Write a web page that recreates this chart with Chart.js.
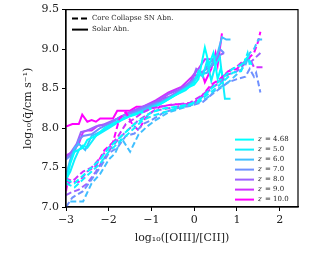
<!DOCTYPE html>
<html>
<head>
<meta charset="utf-8">
<script src="https://cdn.jsdelivr.net/npm/chart.js@4/dist/chart.umd.min.js"></script>
<style>
html,body{margin:0;padding:0;background:#fff;}
#wrap{width:331px;height:257px;position:relative;}
</style>
</head>
<body>
<div id="wrap"><canvas id="c" width="331" height="257"></canvas></div>
<script>
// redshift labels and colours (cool colormap)
const zLabels=["4.68","5.0","6.0","7.0","8.0","9.0","10.0"];
const zColors=["#00ffff","#10efff","#40bfff","#6f90ff","#9f60ff","#cf30ff","#ff00ff"];

// solid = solar abundance, [log OIII/CII, log q]
const solid468=[[-3,7.3],[-2.9,7.55],[-2.8,7.7],[-2.6,7.75],[-2.5,7.85],[-2.3,7.9],[-2.1,8.0],[-1.8,8.08],[-1.5,8.15],[-1.2,8.2],[-1.0,8.25],[-0.7,8.33],[-0.4,8.43],[-0.2,8.5],[0,8.55],[0.1,8.62],[0.25,9.02],[0.35,8.8],[0.45,8.95],[0.55,8.62],[0.62,8.75],[0.7,8.6]];
const solid5=[[-3,7.35],[-2.9,7.45],[-2.8,7.6],[-2.7,7.72],[-2.6,7.78],[-2.5,7.75],[-2.3,7.9],[-2.0,8.0],[-1.7,8.1],[-1.4,8.18],[-1.1,8.23],[-0.8,8.3],[-0.5,8.4],[-0.2,8.48],[0,8.58],[0.1,8.72],[0.2,8.65],[0.3,8.85],[0.4,8.6],[0.5,8.8],[0.6,8.9],[0.72,8.37],[0.85,8.37]];
const solid6=[[-3,7.4],[-2.9,7.6],[-2.8,7.75],[-2.7,7.8],[-2.55,7.72],[-2.4,7.9],[-2.2,7.95],[-2.0,8.02],[-1.7,8.12],[-1.4,8.18],[-1.1,8.25],[-0.8,8.32],[-0.5,8.4],[-0.2,8.5],[0,8.6],[0.15,8.68],[0.3,8.7],[0.45,8.85],[0.55,8.95],[0.65,9.15],[0.75,9.12],[0.85,9.12]];
const solid7=[[-3,7.6],[-2.9,7.65],[-2.8,7.7],[-2.7,7.85],[-2.6,7.9],[-2.4,7.92],[-2.2,8.0],[-2.0,8.05],[-1.7,8.15],[-1.4,8.2],[-1.1,8.27],[-0.8,8.33],[-0.5,8.42],[-0.2,8.52],[0,8.62],[0.15,8.7],[0.3,8.75],[0.45,8.8],[0.6,9.0],[0.7,8.95]];
const solid8=[[-3,7.62],[-2.9,7.68],[-2.75,7.8],[-2.65,7.95],[-2.5,7.97],[-2.3,8.02],[-2.1,8.05],[-1.8,8.12],[-1.5,8.2],[-1.2,8.27],[-0.9,8.33],[-0.6,8.43],[-0.3,8.5],[-0.05,8.6],[0.05,8.75],[0.2,8.7],[0.35,8.82],[0.5,8.9],[0.7,8.95]];
const solid9=[[-3,7.65],[-2.85,7.7],[-2.7,7.8],[-2.6,7.95],[-2.5,7.97],[-2.4,7.97],[-2.25,8.03],[-2.0,8.05],[-1.8,8.12],[-1.5,8.2],[-1.2,8.27],[-0.9,8.35],[-0.6,8.45],[-0.3,8.52],[-0.05,8.65],[0.1,8.75],[0.25,8.87],[0.4,8.87],[0.5,8.87],[0.62,8.9]];
const solid10=[[-3,8.02],[-2.85,8.05],[-2.7,8.05],[-2.62,8.17],[-2.5,8.08],[-2.4,8.1],[-2.3,8.08],[-2.2,8.12],[-1.9,8.12],[-1.8,8.22],[-1.5,8.22],[-1.35,8.27],[-1.1,8.27],[-0.9,8.3],[-0.75,8.37],[-0.55,8.4],[-0.35,8.47],[-0.15,8.53],[0,8.67],[0.2,8.67],[0.25,8.58],[0.4,8.75],[0.5,8.95],[0.55,8.8],[0.65,9.2]];

// dashed = core collapse SN abundance
const dash468=[[-3,7.35],[-2.8,7.3],[-2.6,7.4],[-2.4,7.5],[-2.2,7.6],[-2.0,7.75],[-1.8,7.85],[-1.6,7.95],[-1.4,8.05],[-1.2,8.12],[-1.0,8.2],[-0.7,8.25],[-0.4,8.27],[-0.1,8.3],[0.1,8.35],[0.3,8.45],[0.5,8.55],[0.7,8.65],[0.9,8.75],[1.1,8.8],[1.25,8.9],[1.35,8.8]];
const dash5=[[-3,7.3],[-2.8,7.25],[-2.6,7.35],[-2.4,7.45],[-2.2,7.55],[-2.0,7.7],[-1.8,7.8],[-1.6,7.9],[-1.4,8.0],[-1.2,8.1],[-1.0,8.15],[-0.7,8.2],[-0.4,8.25],[-0.1,8.3],[0.1,8.33],[0.3,8.42],[0.5,8.5],[0.7,8.6],[0.9,8.7],[1.1,8.72],[1.25,8.95],[1.3,8.8]];
const dash6=[[-2.9,7.07],[-2.6,7.07],[-2.4,7.3],[-2.2,7.42],[-2.0,7.6],[-1.85,7.68],[-1.7,7.87],[-1.5,7.7],[-1.3,7.92],[-1.1,8.02],[-0.9,8.1],[-0.6,8.2],[-0.3,8.25],[0,8.3],[0.3,8.38],[0.5,8.48],[0.8,8.58],[1.0,8.68],[1.2,8.8],[1.3,8.95],[1.4,9.0],[1.5,9.12],[1.65,9.12]];
const dash7=[[-3,7.0],[-2.85,7.12],[-2.6,7.2],[-2.4,7.35],[-2.2,7.5],[-2.0,7.68],[-1.8,7.75],[-1.6,7.9],[-1.4,7.93],[-1.2,8.05],[-1.0,8.1],[-0.7,8.2],[-0.4,8.25],[-0.1,8.28],[0.2,8.33],[0.4,8.42],[0.6,8.5],[0.8,8.58],[1.0,8.62],[1.2,8.65],[1.3,8.75],[1.4,8.65],[1.45,8.7],[1.55,8.45]];
const dash8=[[-3,7.15],[-2.9,7.18],[-2.7,7.22],[-2.5,7.3],[-2.3,7.45],[-2.1,7.62],[-1.9,7.78],[-1.7,7.9],[-1.5,8.0],[-1.3,8.1],[-1.1,8.17],[-0.9,8.22],[-0.6,8.25],[-0.3,8.28],[0,8.32],[0.2,8.4],[0.4,8.5],[0.6,8.58],[0.8,8.68],[1.0,8.72],[1.2,8.82],[1.35,8.85],[1.55,8.95]];
const dash9=[[-3,7.28],[-2.8,7.35],[-2.6,7.45],[-2.4,7.5],[-2.2,7.62],[-2.0,7.75],[-1.8,7.88],[-1.6,8.05],[-1.4,8.12],[-1.2,8.2],[-1.0,8.25],[-0.7,8.28],[-0.4,8.3],[-0.1,8.32],[0.2,8.42],[0.4,8.52],[0.6,8.6],[0.8,8.72],[1.0,8.78],[1.15,8.85],[1.3,8.88],[1.4,8.77],[1.65,8.77]];
const dash10=[[-3,7.2],[-2.95,7.35],[-2.8,7.32],[-2.7,7.32],[-2.5,7.45],[-2.3,7.52],[-2.1,7.72],[-1.9,7.82],[-1.75,8.12],[-1.6,8.2],[-1.45,8.05],[-1.3,7.97],[-1.15,8.12],[-1.0,8.2],[-0.8,8.27],[-0.5,8.3],[-0.2,8.3],[0,8.32],[0.2,8.42],[0.4,8.55],[0.6,8.62],[0.8,8.72],[1.0,8.75],[1.2,8.85],[1.4,8.95],[1.5,9.1],[1.55,9.22]];

const xTicks=[-3,-2,-1,0,1,2];
const yTicks=[7.0,7.5,8.0,8.5,9.0,9.5];

const solids=[solid468,solid5,solid6,solid7,solid8,solid9,solid10];
const dashes=[dash468,dash5,dash6,dash7,dash8,dash9,dash10];

const FONT="'DejaVu Serif', 'Liberation Serif', serif";

function mk(arr,col,dashed){
  return {
    data:arr.map(p=>({x:p[0],y:p[1]})),
    borderColor:col,
    borderWidth:2,
    borderDash:dashed?[6,3]:[],
    showLine:true,
    pointRadius:0,
    fill:false,
    tension:0
  };
}
var ds=[];
for(var i=0;i<7;i++){ ds.push(mk(dashes[i],zColors[i],true)); }
for(var i=0;i<7;i++){ ds.push(mk(solids[i],zColors[i],false)); }

// frame + both legends drawn by hand
const extras={
  id:'extras',
  afterDraw(chart){
    const c=chart.ctx, a=chart.chartArea;
    c.save();
    c.strokeStyle='#000';
    c.lineWidth=1.2;
    c.strokeRect(a.left,a.top,a.right-a.left,a.bottom-a.top);
    // linestyle legend
    c.lineWidth=2;
    c.strokeStyle='#000';
    c.setLineDash([6,3]);
    c.beginPath();c.moveTo(a.left+6,a.top+9);c.lineTo(a.left+22,a.top+9);c.stroke();
    c.setLineDash([]);
    c.beginPath();c.moveTo(a.left+6,a.top+20);c.lineTo(a.left+22,a.top+20);c.stroke();
    c.fillStyle='#222';
    c.font="7px "+FONT;
    c.textBaseline='middle';
    c.fillText("Core Collapse SN Abn.",a.left+26,a.top+9);
    c.fillText("Solar Abn.",a.left+26,a.top+20);
    // redshift legend
    for(var k=0;k<7;k++){
      var y=a.top+130+k*10;
      c.strokeStyle=zColors[k];
      c.lineWidth=2;
      c.beginPath();c.moveTo(a.left+169,y);c.lineTo(a.left+188,y);c.stroke();
      c.fillStyle='#222';
      c.font="italic 7px "+FONT;
      c.fillText("z",a.left+192,y);
      c.font="7px "+FONT;
      c.fillText("= "+zLabels[k],a.left+199,y);
    }
    c.restore();
  }
};

new Chart(document.getElementById('c'),{
  type:'scatter',
  data:{datasets:ds},
  options:{
    responsive:false,
    animation:false,
    layout:{padding:{top:7,right:33,left:0,bottom:0}},
    plugins:{legend:{display:false},tooltip:{enabled:false}},
    scales:{
      x:{
        type:'linear',min:-3,max:2.43,
        afterBuildTicks(s){ s.ticks=xTicks.map(v=>({value:v})); },
        afterFit(s){ s.height=50; },
        grid:{drawOnChartArea:false,tickLength:4,color:'#000',lineWidth:1},
        border:{color:'#000',width:1.2},
        ticks:{color:'#222',font:{family:FONT,size:11},padding:3,
          callback:v=>(v<0?'\u2212'+Math.abs(v):String(v))},
        title:{display:true,text:'log\u2081\u2080([OIII]/[CII])',color:'#222',font:{family:FONT,size:11},padding:{top:0,bottom:12}}
      },
      y:{
        type:'linear',min:7,max:9.5,
        afterBuildTicks(s){ s.ticks=yTicks.map(v=>({value:v})); },
        afterFit(s){ s.width=66; },
        grid:{drawOnChartArea:false,tickLength:4,color:'#000',lineWidth:1},
        border:{color:'#000',width:1.2},
        ticks:{color:'#222',font:{family:FONT,size:11},padding:3,
          callback:v=>Number(v).toFixed(1)},
        title:{display:true,text:'log\u2081\u2080(q\u0304/cm s\u207b\u00b9)',color:'#222',font:{family:FONT,size:11},padding:{top:22,bottom:0}}
      }
    }
  },
  plugins:[extras]
});
</script>
</body>
</html>
